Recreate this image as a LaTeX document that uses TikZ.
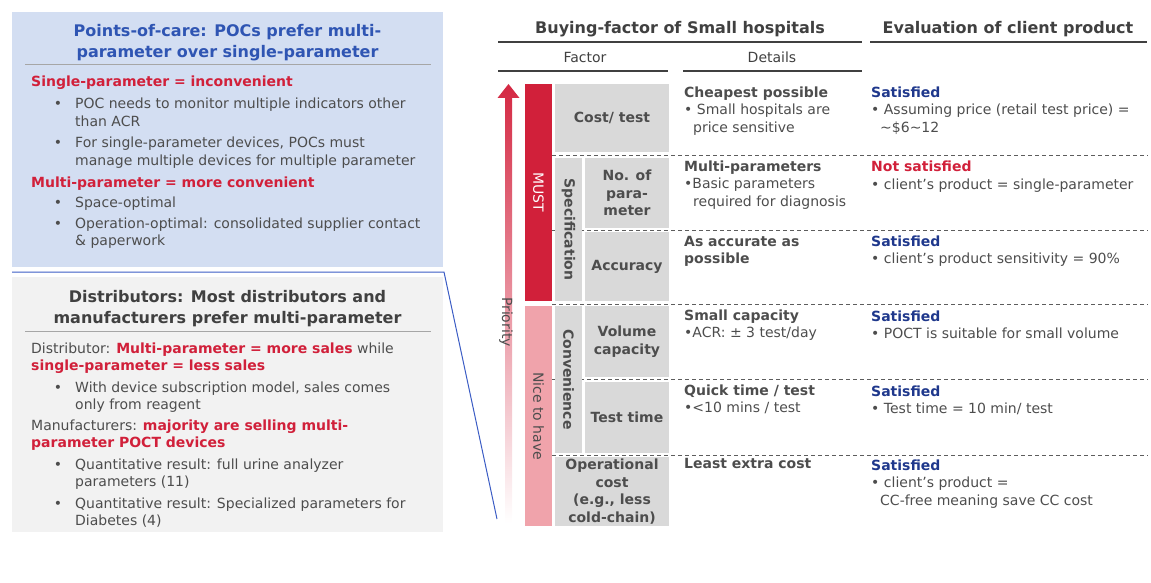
\documentclass[tikz,border=0pt]{standalone}
\usepackage{fontspec}
\setmainfont{DejaVu Sans}
\usetikzlibrary{positioning}
\definecolor{bluefill}{RGB}{211,222,242}
\definecolor{grayfill}{RGB}{242,242,242}
\definecolor{titleblue}{RGB}{47,85,179}
\definecolor{accred}{RGB}{209,32,58}
\definecolor{pinkfill}{RGB}{240,163,171}
\definecolor{cellgray}{RGB}{217,217,217}
\definecolor{navy}{RGB}{31,56,140}
\definecolor{txtgray}{RGB}{77,77,77}
\definecolor{darkgray}{RGB}{64,64,64}
\definecolor{rulegray}{RGB}{166,166,166}
\definecolor{connblue}{RGB}{59,92,196}
\definecolor{arrowred}{RGB}{212,40,66}

\begin{document}
\begin{tikzpicture}[x=1pt,y=-1pt,
  txt/.style={anchor=base west, align=left, inner sep=0pt, text=txtgray,
    font=\fontsize{14}{17.5}\selectfont},
  ttl/.style={anchor=base, align=center, inner sep=0pt,
    font=\bfseries\fontsize{16}{21}\selectfont},
  bul/.style={anchor=base, inner sep=0pt, text=txtgray, font=\fontsize{14}{17.5}\selectfont},
  cell/.style={fill=cellgray, inner sep=0pt, align=center, text=txtgray,
    font=\bfseries\fontsize{14}{17.5}\selectfont},
  band/.style={inner sep=0pt, font=\fontsize{14}{17.5}\selectfont},
  hd/.style={anchor=base, inner sep=0pt, text=darkgray, font=\fontsize{14}{17.5}\selectfont},
  hdrule/.style={draw=darkgray, line width=1.3pt},
  thinrule/.style={draw=rulegray, line width=1pt},
  dashln/.style={draw=darkgray!85, line width=0.9pt, dash pattern=on 4pt off 3pt},
  conn/.style={draw=connblue, line width=1pt}]
\useasboundingbox (0,0) rectangle (1151,583);

% 左侧：POC（多行节点的 base 在最后一行）
\fill[bluefill] (12,12) rectangle (443,267);
\node[ttl, text=titleblue] (poc) at (227.5,58) {Points-of-care: POCs prefer multi-\\parameter over single-parameter};
\draw[thinrule] (25,65) -- (431,65);
\node[txt, text=accred, font=\bfseries\fontsize{14}{17.5}\selectfont] (single) at (31,87) {Single-parameter = inconvenient};
\node[txt] (p1) at (75,126.5) {POC needs to monitor multiple indicators other\\than ACR};
\node[txt] (p2) at (75,165.5) {For single-parameter devices, POCs must\\manage multiple devices for multiple parameter};
\node[txt, text=accred, font=\bfseries\fontsize{14}{17.5}\selectfont] (multi) at (31,187) {Multi-parameter = more convenient};
\node[txt] (p3) at (75,207) {Space-optimal};
\node[txt] (p4) at (75,245.5) {Operation-optimal: consolidated supplier contact\\\& paperwork};
\foreach \y in {109,148,207,228}
  \node[bul] at (58,\y) {\textbullet};

% 左侧：分销商
\fill[grayfill] (12,277) rectangle (443,532);
\node[ttl, text=darkgray] (dist) at (227.5,323) {Distributors: Most distributors and\\manufacturers prefer multi-parameter};
\draw[thinrule] (25,331) -- (431,331);
\node[txt] (q1) at (31,370.5) {Distributor: {\color{accred}\bfseries Multi-parameter = more sales} while\\{\color{accred}\bfseries single-parameter = less sales}};
\node[txt] (q2) at (75,409.5) {With device subscription model, sales comes\\only from reagent};
\node[txt] (q3) at (31,447.5) {Manufacturers: {\color{accred}\bfseries majority are selling multi-}\\{\color{accred}\bfseries parameter POCT devices}};
\node[txt] (q4) at (75,486.5) {Quantitative result: full urine analyzer\\parameters (11)};
\node[txt] (q5) at (75,525.5) {Quantitative result: Specialized parameters for\\Diabetes (4)};
\foreach \y in {392,469,508}
  \node[bul] at (58,\y) {\textbullet};

\coordinate (c1) at (12,272);
\coordinate (c2) at (444,272);
\coordinate (c3) at (497,519);
\draw[conn] (c1) -- (c2) -- (c3);

% 表头
\node[ttl, text=darkgray] (buy) at (680,34) {Buying-factor of Small hospitals};
\node[ttl, text=darkgray] (eval) at (1008,34) {Evaluation of client product};
\draw[hdrule] (498,42) -- (862,42);
\draw[hdrule] (870,42) -- (1147,42);
\node[hd] (fac) at (585,63) {Factor};
\node[hd] (det) at (772,63) {Details};
\draw[hdrule] (498,71) -- (668,71);
\draw[hdrule] (683,71) -- (862,71);

% 虚线
\foreach \y in {155,230,304,379,455}
  \draw[dashln] (552,\y) -- (1148,\y);

% 优先级箭头
\shade[top color=arrowred, bottom color=white] (505,523) -- (505,98) -- (497.5,98) -- (508.5,84)
  -- (519.5,98) -- (512,98) -- (512,523) -- cycle;
\node[band, rotate=-90, text=txtgray] (prio) at (506,322) {Priority};

\node[band, fill=accred, text=white, rotate=-90, minimum width=217pt, minimum height=27pt] (must) at (538.5,192.5) {MUST};
\node[band, fill=pinkfill, text=txtgray, rotate=-90, minimum width=220pt, minimum height=27pt] (nice) at (538.5,416) {Nice to have};

% 因素格子
\node[cell, minimum width=114pt, minimum height=68pt] (cost) at (612,118) {Cost/ test};
\node[cell, rotate=-90, minimum width=143pt, minimum height=27pt] (spec) at (568.5,229.5) {Specification};
\node[cell, minimum width=84pt, minimum height=70pt] (npar) at (627,193) {No. of\\para-\\meter};
\node[cell, minimum width=84pt, minimum height=69pt] (acc) at (627,266.5) {Accuracy};
\node[cell, rotate=-90, minimum width=147pt, minimum height=27pt] (conv) at (568.5,379.5) {Convenience};
\node[cell, minimum width=84pt, minimum height=71pt] (vol) at (627,341.5) {Volume\\capacity};
\node[cell, minimum width=84pt, minimum height=71pt] (ttime) at (627,417.5) {Test time};
\node[cell, minimum width=114pt, minimum height=69pt] (opc) at (612,491.5) {Operational\\cost\\(e.g., less\\cold-chain)};

% 细节
\node[txt] (d1) at (684,132) {\textbf{Cheapest possible}\\\textbullet\ Small hospitals are\\\hspace*{9pt}price sensitive};
\node[txt] (d2) at (684,206) {\textbf{Multi-parameters}\\\textbullet Basic parameters\\\hspace*{9pt}required for diagnosis};
\node[txt] (d3) at (684,263.5) {\textbf{As accurate as}\\\textbf{possible}};
\node[txt] (d4) at (684,337.5) {\textbf{Small capacity}\\\textbullet ACR: ± 3 test/day};
\node[txt] (d5) at (684,412.5) {\textbf{Quick time / test}\\\textbullet<10 mins / test};
\node[txt] (d6) at (684,468) {\textbf{Least extra cost}};

% 评价
\node[txt] (e1) at (871,132) {\textcolor{navy}{\textbf{Satisfied}}\\\textbullet\ Assuming price (retail test price) =\\\hspace*{9pt}{\textasciitilde}\$6{\textasciitilde}12};
\node[txt] (e2) at (871,189.5) {\textcolor{accred}{\textbf{Not satisfied}}\\\textbullet\ client’s product = single-parameter};
\node[txt] (e3) at (871,263.5) {\textcolor{navy}{\textbf{Satisfied}}\\\textbullet\ client’s product sensitivity = 90\%};
\node[txt] (e4) at (871,338.5) {\textcolor{navy}{\textbf{Satisfied}}\\\textbullet\ POCT is suitable for small volume};
\node[txt] (e5) at (871,413.5) {\textcolor{navy}{\textbf{Satisfied}}\\\textbullet\ Test time = 10 min/ test};
\node[txt] (e6) at (871,505) {\textcolor{navy}{\textbf{Satisfied}}\\\textbullet\ client’s product =\\\hspace*{9pt}CC-free meaning save CC cost};
\end{tikzpicture}
\end{document}
